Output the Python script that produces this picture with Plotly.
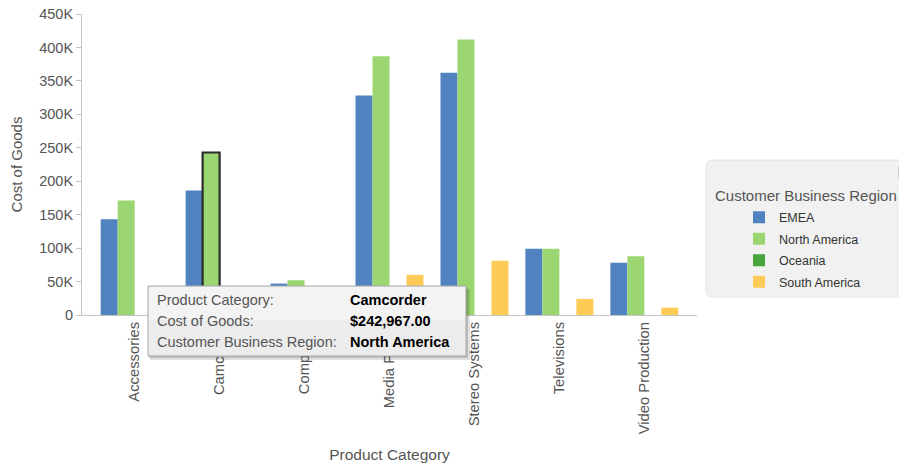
import plotly.graph_objects as go

# ---------------- data ----------------
categories = ["Accessories", "Camcorder", "Computers", "Media Player",
              "Stereo Systems", "Televisions", "Video Production"]
emea = [143000, 186000, 47000, 328000, 362000, 99000, 78000]
north_america = [171000, 242967, 52000, 387000, 412000, 99000, 88000]
oceania = [None, None, None, None, None, None, None]
south_america = [None, None, None, 60000, 81000, 24000, 11000]

series_names = ["EMEA", "North America", "Oceania", "South America"]
series_colors = ["#5083bf", "#9cd672", "#48a43c", "#fecb57"]

y_tickvals = [0, 50000, 100000, 150000, 200000, 250000, 300000, 350000, 400000, 450000]
y_ticktext = ["0", "50K", "100K", "150K", "200K", "250K", "300K", "350K", "400K", "450K"]

tooltip_labels = ["Product Category:", "Cost of Goods:", "Customer Business Region:"]
tooltip_values = ["Camcorder", "$242,967.00", "North America"]
highlight_series = "North America"
highlight_category = "Camcorder"

# ---------------- layout geometry (screen pixels) ----------------
OFF = 8                      # page body margin of the html page
SW, SH = 907, 463            # screen size
W, H = SW - OFF, SH - OFF    # figure size
PL, PR, PT, PB = 82, 697, 14, 315   # plot area on screen
PW, PH = PR - PL, PB - PT
L, T = PL - OFF, PT - OFF
R, B = W - L - PW, H - T - PH
FONT = "Liberation Sans, Arial, Helvetica, sans-serif"


def xp(px):
    return (px - PL) / PW


def yp(py):
    return (PB - py) / PH


fig = go.Figure()
all_values = [emea, north_america, oceania, south_america]
for name, vals, col in zip(series_names, all_values, series_colors):
    lw = [2.2 if (name == highlight_series and c == highlight_category) else 0
          for c in categories]
    fig.add_trace(go.Bar(
        x=categories, y=vals, name=name, legendgroup=name,
        marker=dict(color=col, line=dict(width=lw, color="#2b2b2b")),
    ))

shapes = []


def rounded(x0, y0, x1, y1, r):
    rx, ry = r / PW, r / PH
    X0, X1, Y0, Y1 = xp(x0), xp(x1), yp(y1), yp(y0)
    return (f"M{X0+rx},{Y1} L{X1-rx},{Y1} Q{X1},{Y1} {X1},{Y1-ry} "
            f"L{X1},{Y0+ry} Q{X1},{Y0} {X1-rx},{Y0} L{X0+rx},{Y0} "
            f"Q{X0},{Y0} {X0},{Y0+ry} L{X0},{Y1-ry} Q{X0},{Y1} {X0+rx},{Y1} Z")


# legend background (rounded)
shapes.append(dict(type="path", xref="paper", yref="paper", layer="below",
                   path=rounded(706, 160, 930, 297, 7),
                   fillcolor="#f1f1f1", line=dict(color="#e4e4e4", width=1)))
# scroll arrow of the legend
shapes.append(dict(type="path", xref="paper", yref="paper", layer="below",
                   path=f"M{xp(898)},{yp(166)} L{xp(906)},{yp(172)} L{xp(898)},{yp(178)} Z",
                   fillcolor="#cfcfcf", line=dict(width=0)))

# tooltip shadow + box
shapes.append(dict(type="rect", xref="paper", yref="paper", layer="above",
                   x0=xp(150), x1=xp(470), y0=yp(360), y1=yp(289),
                   fillcolor="rgba(0,0,0,0.12)", line=dict(width=0)))
shapes.append(dict(type="rect", xref="paper", yref="paper", layer="above",
                   x0=xp(149), x1=xp(468), y0=yp(358), y1=yp(288),
                   fillcolor="rgba(0,0,0,0.15)", line=dict(width=0)))
shapes.append(dict(type="rect", xref="paper", yref="paper", layer="above",
                   x0=xp(148), x1=xp(466), y0=yp(356), y1=yp(286),
                   fillcolor="#ececec", line=dict(color="#a8a8a8", width=1)))
shapes.append(dict(type="rect", xref="paper", yref="paper", layer="above",
                   x0=xp(149), x1=xp(465), y0=yp(320), y1=yp(287),
                   fillcolor="#f3f3f3", line=dict(width=0)))

annotations = []
row_y = [300, 321, 342]
for lab, val, ry in zip(tooltip_labels, tooltip_values, row_y):
    annotations.append(dict(xref="paper", yref="paper", x=xp(155), y=yp(ry),
                            xanchor="left", yanchor="middle", showarrow=False,
                            text=lab, font=dict(family=FONT, size=14.5, color="#555555")))
    annotations.append(dict(xref="paper", yref="paper", x=xp(348), y=yp(ry),
                            xanchor="left", yanchor="middle", showarrow=False,
                            text=f"<b>{val}</b>", font=dict(family=FONT, size=14.5, color="#000000")))

# legend title
annotations.append(dict(xref="paper", yref="paper", x=xp(713), y=yp(195),
                        xanchor="left", yanchor="middle", showarrow=False,
                        text="Customer Business Region",
                        font=dict(family=FONT, size=15, color="#555555")))

fig.update_layout(
    width=W, height=H,
    margin=dict(l=L, r=R, t=T, b=B, autoexpand=False),
    paper_bgcolor="white", plot_bgcolor="white",
    barmode="group", bargap=0.2, bargroupgap=0,
    font=dict(family=FONT, color="#555555"),
    showlegend=True,
    legend=dict(x=xp(739), y=yp(202.5), xanchor="left", yanchor="top",
                bgcolor="rgba(0,0,0,0)", borderwidth=0,
                font=dict(family=FONT, size=12.5, color="#333333"),
                traceorder="grouped", tracegroupgap=2.3, itemclick=False),
    shapes=shapes, annotations=annotations,
    xaxis=dict(
        type="category", range=[-0.62, 6.62],
        showline=True, linecolor="#c4c4c4", linewidth=1,
        ticks="", tickangle=-90, showgrid=False, zeroline=False,
        tickfont=dict(family=FONT, size=14.8, color="#555555"),
        title=dict(text="Product Category", standoff=16,
                   font=dict(family=FONT, size=15.5, color="#555555")),
        automargin=False,
    ),
    yaxis=dict(
        range=[0, 450000], tickvals=y_tickvals, ticktext=y_ticktext,
        showline=True, linecolor="#c4c4c4", linewidth=1,
        ticks="outside", ticklen=5, tickcolor="#c4c4c4",
        showgrid=False, zeroline=False, ticklabeloverflow="allow",
        tickfont=dict(family=FONT, size=14.5, color="#555555"),
        title=dict(text="Cost of Goods", standoff=14,
                   font=dict(family=FONT, size=15, color="#555555")),
        automargin=False,
    ),
)

fig.write_html("out.html")
